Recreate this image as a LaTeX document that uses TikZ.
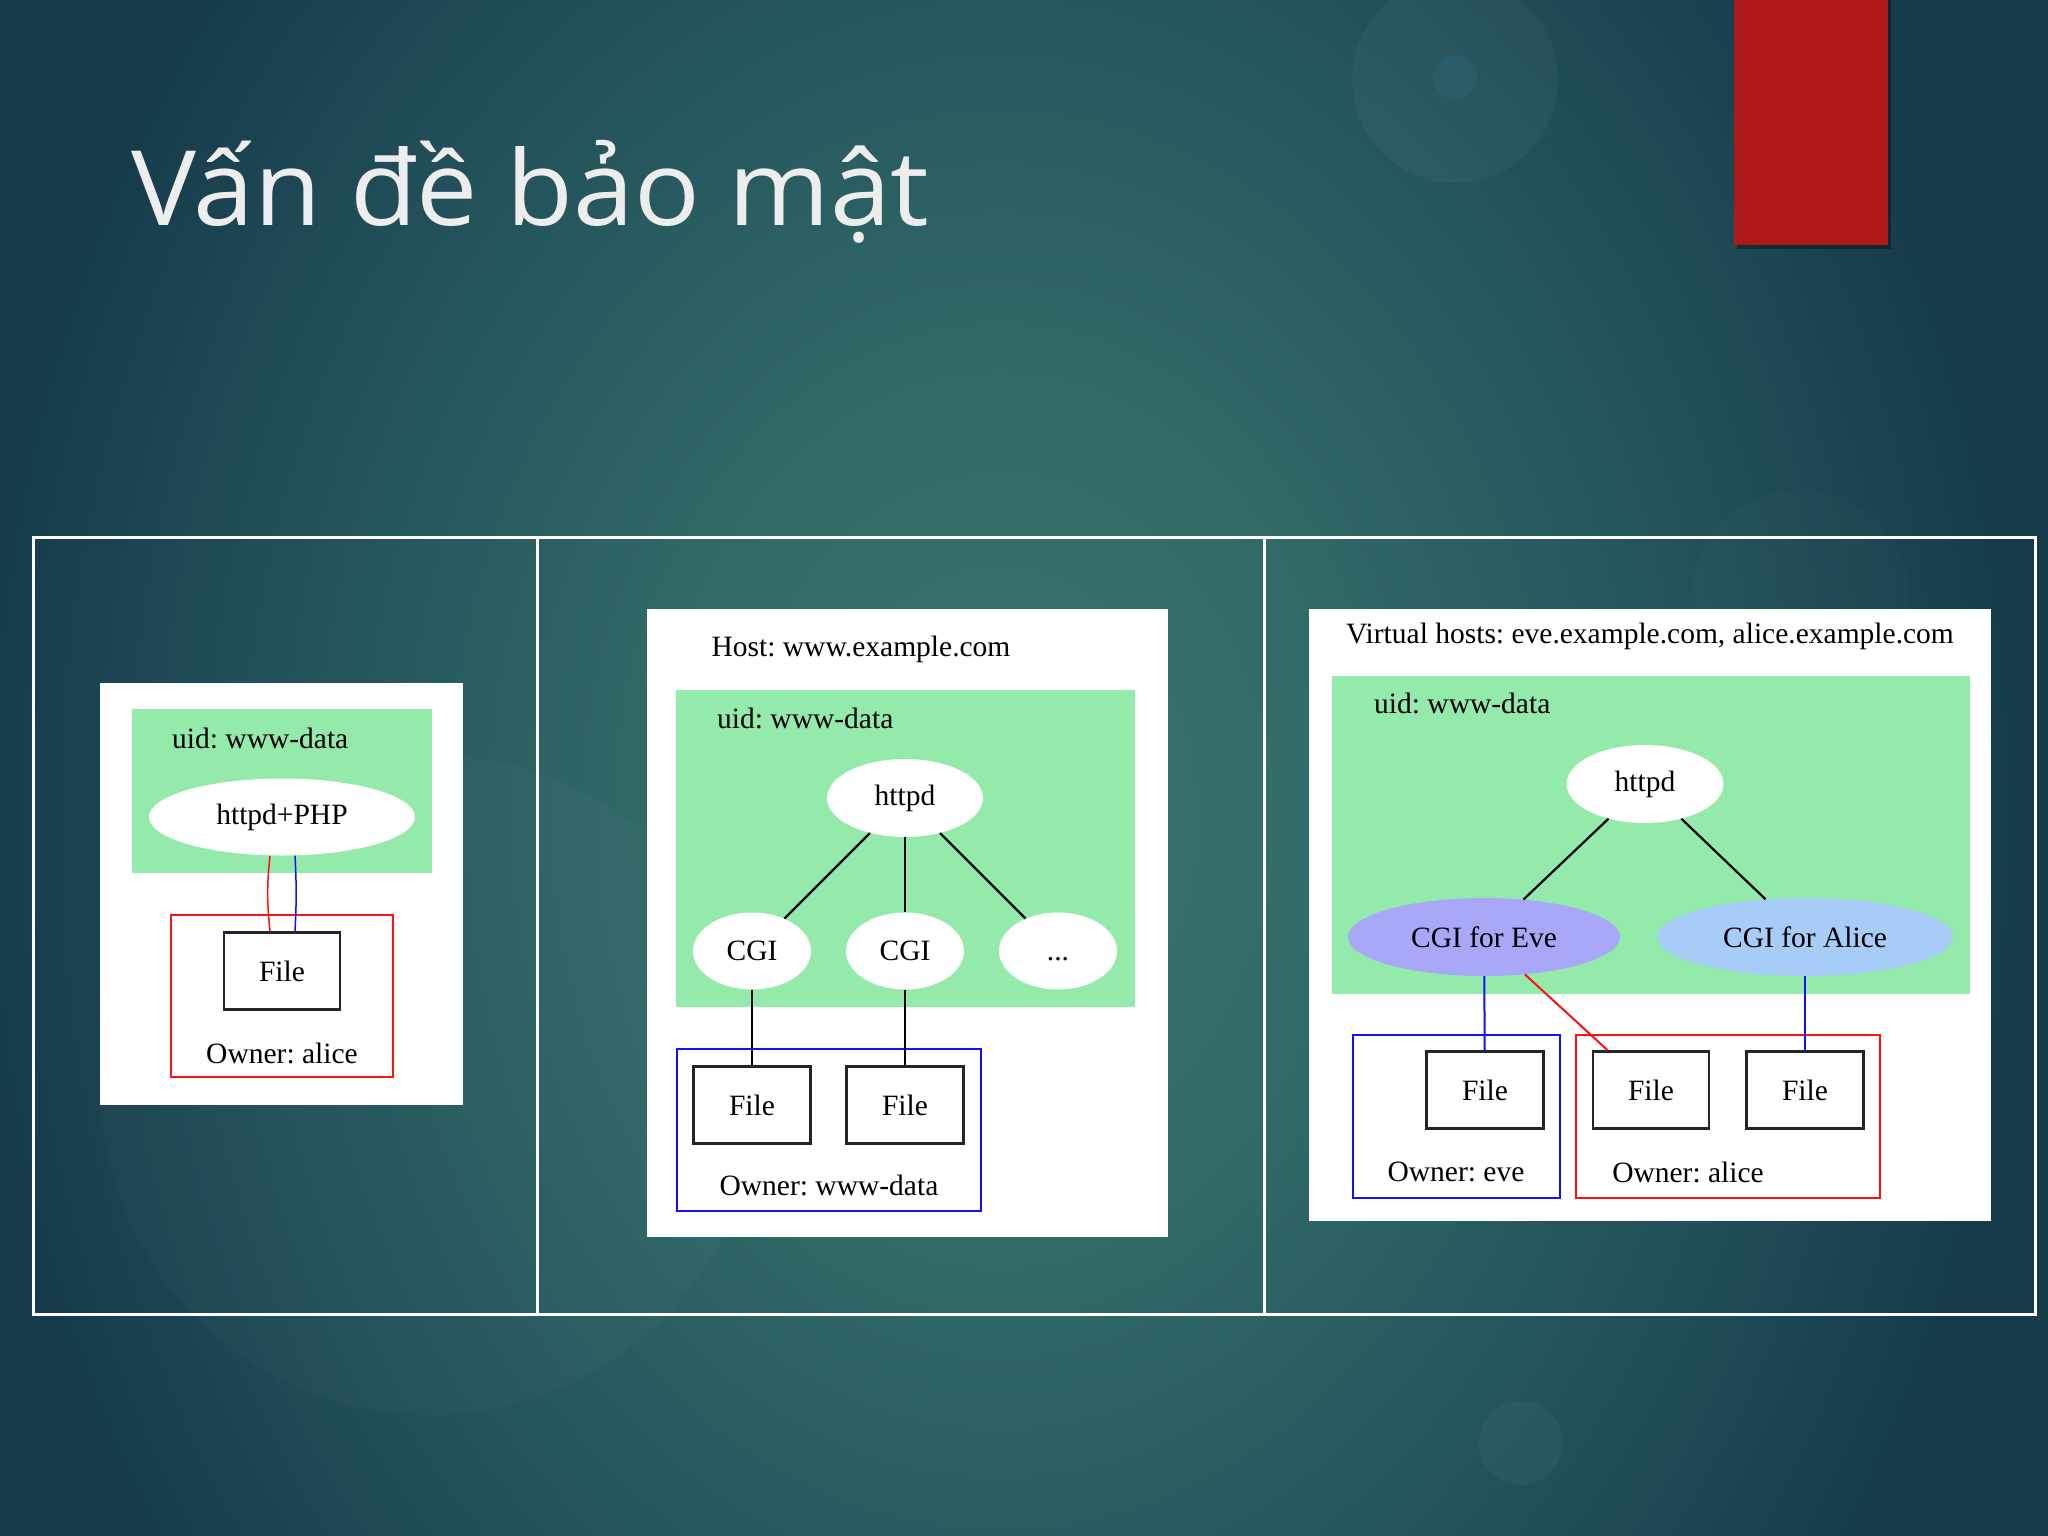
\documentclass[tikz,border=0pt]{standalone}
\usepackage{fontspec}
\setmainfont{Liberation Serif}
\newfontfamily\titlefont{Open Sans}
\usepackage{graphicx}
\usepackage{tikz}
\usetikzlibrary{shapes.geometric}

\definecolor{bgin}{HTML}{3D776C}
\definecolor{bgmid}{HTML}{306966}
\definecolor{bgdark}{HTML}{214E59}
\definecolor{bgout}{HTML}{163C4B}
\definecolor{uidgreen}{HTML}{93EAAA}
\definecolor{evecol}{HTML}{A9A7F7}
\definecolor{alicecol}{HTML}{A6CCF7}
\definecolor{barred}{HTML}{AE1818}
\definecolor{ownred}{HTML}{FF1010}
\definecolor{ownblue}{HTML}{1010FF}
\pgfdeclareradialshading{slidebg}{\pgfpoint{0bp}{0bp}}{color(0bp)=(bgin); color(9bp)=(bgmid); color(19bp)=(bgdark); color(25bp)=(bgout); color(50bp)=(bgout)}

\newcommand\dotsize{\frenchspacing\fontsize{29.5}{35}\selectfont}

\begin{document}
\begin{tikzpicture}[x=1pt, y=-1pt, font=\dotsize,
		proc/.style={ellipse, fill=white, inner sep=0pt},
		filebox/.style={draw=black!85, line width=2.5, rectangle, fill=white, inner sep=0pt, minimum width=117, minimum height=77},
		edge/.style={draw=black, line width=2.2}]
		\useasboundingbox (0,0) rectangle (2048,1536);
		\begin{scope}
			\clip (0,0) rectangle (2048,1536);
			\fill[bgout] (0,0) rectangle (2048,1536);
			\begin{scope}[shift={(1000,820)}, xscale=0.78]
				\shade[shading=slidebg] (-1300,-1300) rectangle (1300,1300);
			\end{scope}
			\fill[white, opacity=0.035] (1455,80) circle (103);
			\fill[cyan!40!teal, opacity=0.12] (1455,77) circle (22);
			\fill[white, opacity=0.02] (430,1085) circle (330);
			\fill[white, opacity=0.035] (1521,1443) circle (42);
			\fill[white, opacity=0.015] (1800,600) circle (110);
		\end{scope}
		
		\fill[black, opacity=0.35] (1737,0) rectangle (1891,249);
		\fill[barred] (1734,0) rectangle (1888,245);
		\node[anchor=base west, text=white!93!black, font=\titlefont\fontsize{104}{120}\selectfont, inner sep=0pt] (title) at (131,225) {\scalebox{1.05}[1]{Vấn đề bảo mật}};
		
		\draw[white, line width=3] (33,537) rectangle (2035,1314);
		\draw[white, line width=3] (537,537) -- (537,1314);
		\draw[white, line width=3] (1264,537) -- (1264,1314);
		
		\fill[white] (100,683) rectangle (463,1105);
		\fill[uidgreen] (132,709) rectangle (432,873);
		\node[anchor=west, inner sep=0pt] (uidA) at (172,738) {uid: www-data};
		\node[proc, minimum width=266, minimum height=77] (php) at (282,817) {httpd+PHP};
		\draw[ownred, line width=2] (171,915) rectangle (393,1077);
		\node[filebox, minimum width=116] (fileA) at (282,971) {File};
		\node (ownA) at (282,1053) {Owner: alice};
		\draw[ownred, line width=1.5] ([xshift=-12]php.south) to[bend right=6] ([xshift=-12]fileA.north);
		\draw[ownblue, line width=1.5] ([xshift=13]php.south) to[bend left=3] ([xshift=13]fileA.north);
		
		\fill[white] (647,609) rectangle (1168,1237);
		\node (host) at (861,649) {Host: www.example.com};
		\fill[uidgreen] (676,690) rectangle (1135,1007);
		\node[anchor=west, inner sep=0pt] (uidB) at (717,718) {uid: www-data};
		\node[proc, minimum width=156, minimum height=78] (httpdB) at (905,798) {httpd};
		\node[proc, minimum width=118, minimum height=77] (cgiB1) at (752,951) {CGI};
		\node[proc, minimum width=118, minimum height=77] (cgiB2) at (905,951) {CGI};
		\node[proc, minimum width=118, minimum height=77] (moreB) at (1058,951) {\vphantom{CGI}...};
		\draw[ownblue, line width=2] (677,1049) rectangle (981,1211);
		\node[filebox] (fileB1) at (752,1105) {File};
		\node[filebox] (fileB2) at (905,1105) {File};
		\node (ownB) at (829,1185) {Owner: www-data};
		\draw[edge] (httpdB) -- (cgiB1);
		\draw[edge] (httpdB) -- (cgiB2);
		\draw[edge] (httpdB) -- (moreB);
		\draw[edge] (cgiB1) -- (fileB1);
		\draw[edge] (cgiB2) -- (fileB2);
		
		\fill[white] (1309,609) rectangle (1991,1221);
		\node (vhost) at (1650,636) {Virtual hosts: eve.example.com, alice.example.com};
		\fill[uidgreen] (1332,676) rectangle (1970,994);
		\node[anchor=west, inner sep=0pt] (uidC) at (1374,703) {uid: www-data};
		\node[proc, minimum width=157, minimum height=78] (httpdC) at (1645,784) {httpd};
		\node[proc, fill=evecol, minimum width=272, minimum height=78] (eve) at (1484,937) {CGI for Eve};
		\node[proc, fill=alicecol, minimum width=296, minimum height=78] (alice) at (1805,937) {CGI for Alice};
		\draw[ownblue, line width=2] (1353,1035) rectangle (1560,1198);
		\draw[ownred, line width=2] (1576,1035) rectangle (1880,1198);
		\node[filebox] (fileE) at (1485,1090) {File};
		\node[filebox, minimum width=116] (fileC1) at (1651,1090) {File};
		\node[filebox] (fileC2) at (1805,1090) {File};
		\node (ownE) at (1456,1172) {Owner: eve};
		\node (ownC) at (1688,1172) {Owner: alice};
		\draw[edge] (httpdC) -- (eve);
		\draw[edge] (httpdC) -- (alice);
		\draw[ownblue, line width=2] (eve) -- (fileE);
		\draw[ownred, line width=2] (eve) -- (fileC1);
		\draw[ownblue, line width=2] (alice) -- (fileC2);
	\end{tikzpicture}
\end{document}
